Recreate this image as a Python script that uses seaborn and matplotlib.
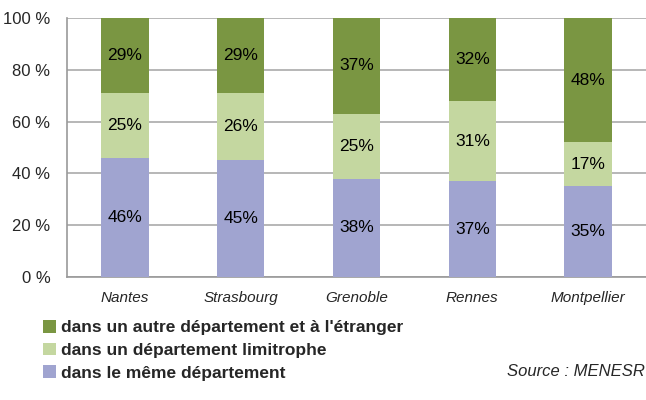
import matplotlib
matplotlib.use("Agg")
import matplotlib.pyplot as plt
import seaborn as sns
import numpy as np
import pandas as pd
from matplotlib.patches import Patch

cities = ["Nantes", "Strasbourg", "Grenoble", "Rennes", "Montpellier"]
meme = [46, 45, 38, 37, 35]
limitrophe = [25, 26, 25, 31, 17]
autre = [29, 29, 37, 32, 48]
series_names = ["dans le même département", "dans un département limitrophe",
                "dans un autre département et à l'étranger"]
colors = ["#A0A4D0", "#C4D7A0", "#7A9642"]
yticks = [0, 20, 40, 60, 80, 100]

sns.set_theme(style="white")
plt.rcParams['font.family'] = ['Liberation Sans', 'DejaVu Sans']

fig = plt.figure(figsize=(6.46, 4.0), dpi=100)
ax = fig.add_axes([67/646, 1-277/400, 1-67/646, (277-18)/400])

df = pd.DataFrame({"city": cities, "meme": meme, "lim": limitrophe, "autre": autre})
bottoms = np.zeros(len(cities))
for col, c in zip(["meme", "lim", "autre"], colors):
    sns.barplot(data=df, x="city", y=col, color=c, bottom=bottoms, width=0.41,
                ax=ax, saturation=1, edgecolor="none", linewidth=0, zorder=3)
    for i, v in enumerate(df[col]):
        ax.text(i, bottoms[i] + v/2, f"{v}%", ha="center", va="center",
                fontsize=12.5, color="black", zorder=4)
    bottoms = bottoms + df[col].values

ax.set_ylim(0, 100)
ax.set_xlim(-0.5, 4.5)
ax.set_yticks(yticks)
ax.set_yticklabels([f"{t} %" for t in yticks], fontsize=12)
ax.set_xlabel("")
ax.set_ylabel("")
ax.tick_params(axis="x", labelsize=11, length=0, pad=10)
for lab in ax.get_xticklabels():
    lab.set_fontstyle("italic")
ax.tick_params(axis="y", length=0, pad=12)
ax.yaxis.grid(True, color="#AAAAAA", linewidth=1.2, zorder=0)
ax.set_axisbelow(True)
for s in ["right", "top"]:
    ax.spines[s].set_visible(False)
ax.spines["left"].set_color("#999999")
ax.spines["bottom"].set_color("#999999")
ax.spines["left"].set_linewidth(1.2)
ax.spines["bottom"].set_linewidth(1.2)

handles = [Patch(facecolor=colors[i], edgecolor="none") for i in [2, 1, 0]]
labels = [series_names[i] for i in [2, 1, 0]]
fig.legend(handles, labels, loc="upper left", bbox_to_anchor=(43/646, 1-320/400),
           frameon=False, handlelength=0.75, handleheight=0.75,
           handletextpad=0.3, labelspacing=0.42, borderpad=0, borderaxespad=0,
           prop={"weight": "bold", "size": 12.5})

fig.text(645/646, 1-372/400, "Source : MENESR", ha="right", va="center",
         fontsize=12, style="italic")

fig.savefig("out.png", dpi=100)
